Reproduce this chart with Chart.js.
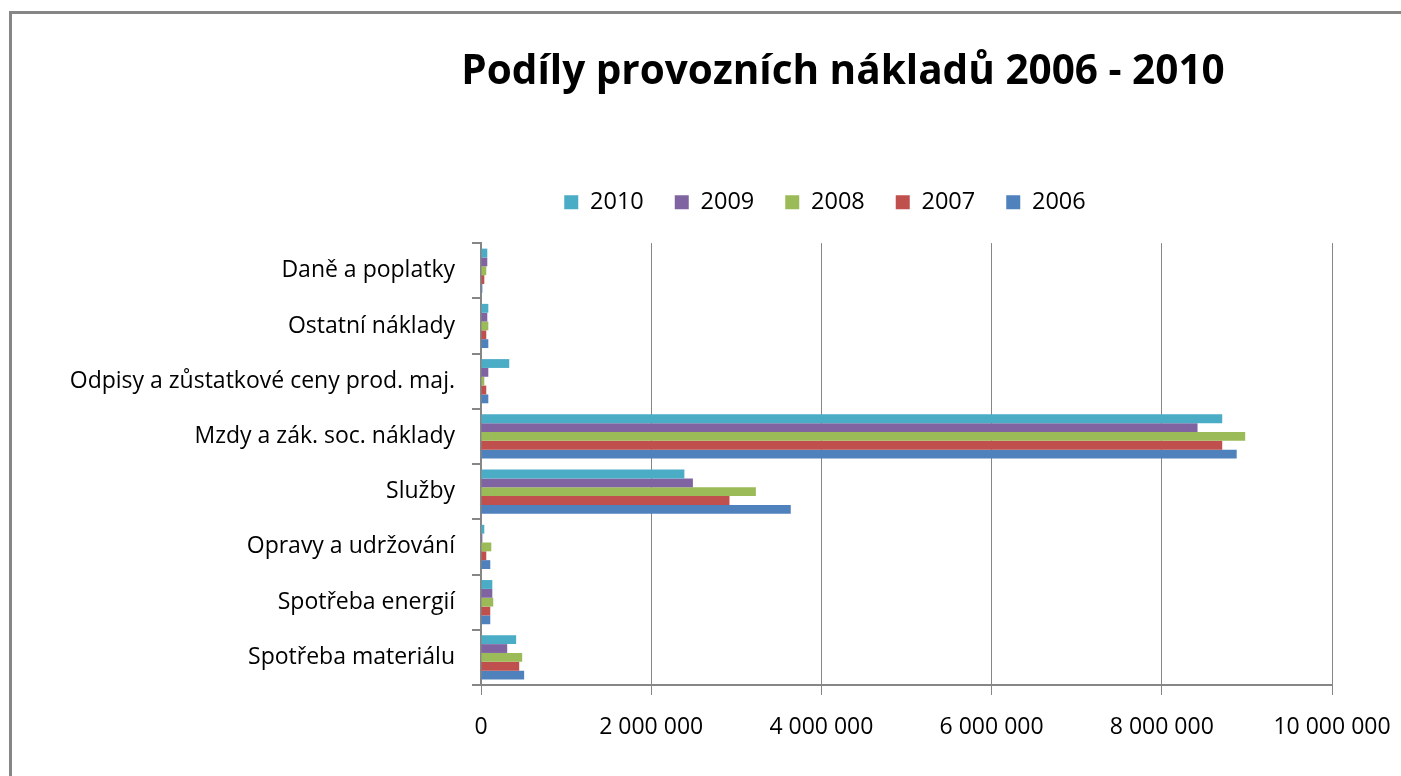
<!DOCTYPE html>
<html>
<head>
<meta charset="utf-8">
<script src="https://cdn.jsdelivr.net/npm/chart.js@4/dist/chart.umd.min.js"></script>
<style>
  html, body { margin: 0; padding: 0; background: #fff; }
  #wrap { position: relative; width: 1401px; height: 776px; overflow: hidden; }
  #frame { position: absolute; left: 9px; top: 11px; width: 1500px; height: 900px;
           border-left: 3px solid #868686; border-top: 3px solid #868686; box-sizing: border-box; pointer-events: none; }
  canvas { position: absolute; left: 0; top: 0; }
</style>
</head>
<body>
<div id="wrap">
  <canvas id="c" width="1401" height="776"></canvas>
  <div id="frame"></div>
</div>
<script>
const titleText = 'Podíly provozních nákladů 2006 - 2010';
const categories = [
  'Daně a poplatky',
  'Ostatní náklady',
  'Odpisy a zůstatkové ceny prod. maj.',
  'Mzdy a zák. soc. náklady',
  'Služby',
  'Opravy a udržování',
  'Spotřeba energií',
  'Spotřeba materiálu'
];
const years = ['2010', '2009', '2008', '2007', '2006'];
const values2010 = [74000, 86000, 332000, 8710000, 2390000, 39000, 133000, 413000];
const values2009 = [74000, 74000, 86000, 8420000, 2490000, 16000, 133000, 308000];
const values2008 = [62000, 86000, 39000, 8980000, 3230000, 121000, 144000, 484000];
const values2007 = [39000, 62000, 62000, 8710000, 2920000, 62000, 109000, 449000];
const values2006 = [16000, 86000, 86000, 8880000, 3640000, 109000, 109000, 507000];
const xTicks = [0, 2000000, 4000000, 6000000, 8000000, 10000000];
const colors = ['#4BACC6', '#8064A2', '#9BBB59', '#C0504D', '#4F81BD'];
const seriesValues = [values2010, values2009, values2008, values2007, values2006];

const fontFamily = '"Open Sans", "Liberation Sans", sans-serif';
const gridColor = '#868686';
const padRight = 69;
const plotLeft = 481;
const titleCenter = 843;
const legendCenter = 825;

function fmt(v) {
  return String(v).replace(/\B(?=(\d{3})+(?!\d))/g, ' ');
}

// shift title and legend boxes so they are centred where the reference has them
const boxShift = {
  id: 'boxShift',
  afterLayout(chart) {
    const t = chart.titleBlock;
    if (t) { const d = titleCenter - (t.left + t.right) / 2; t.left += d; t.right += d; }
    const l = chart.legend;
    if (l) { const d = legendCenter - (l.left + l.right) / 2; l.left += d; l.right += d; }
  }
};

new Chart(document.getElementById('c'), {
  type: 'bar',
  plugins: [boxShift],
  data: {
    labels: categories,
    datasets: years.map((y, i) => ({
      label: y,
      data: seriesValues[i],
      backgroundColor: colors[i],
      borderWidth: 0,
      categoryPercentage: 0.8,
      barPercentage: 1.0
    }))
  },
  options: {
    indexAxis: 'y',
    responsive: false,
    animation: false,
    devicePixelRatio: 1,
    layout: { padding: { left: 0, right: padRight, top: 0, bottom: 0 } },
    plugins: {
      title: {
        display: true,
        text: titleText,
        color: '#000',
        font: { family: fontFamily, size: 40.5, weight: 'bold' },
        padding: { top: 48, bottom: 63 }
      },
      legend: {
        display: true,
        position: 'top',
        labels: {
          color: '#000',
          font: { family: fontFamily, size: 23.5 },
          boxWidth: 14,
          boxHeight: 14,
          padding: 31
        }
      },
      tooltip: { enabled: false }
    },
    scales: {
      x: {
        type: 'linear',
        position: 'bottom',
        min: 0,
        max: 10000000,
        afterBuildTicks: (s) => { s.ticks = xTicks.map(v => ({ value: v })); },
        ticks: {
          color: '#000',
          font: { family: fontFamily, size: 23 },
          padding: 19,
          maxRotation: 0,
          autoSkip: false,
          callback: (v) => fmt(v)
        },
        grid: { color: gridColor, lineWidth: 1, tickLength: 10, drawTicks: true },
        border: { color: gridColor, width: 2 },
        afterFit: (s) => { s.height = 91; s.paddingLeft = 0; s.paddingRight = 0; }
      },
      xTop: {
        type: 'linear',
        axis: 'x',
        position: 'top',
        display: true,
        grid: { display: false },
        border: { display: false },
        ticks: { display: false },
        afterFit: (s) => { s.height = 19; s.paddingLeft = 0; s.paddingRight = 0; }
      },
      y: {
        type: 'category',
        position: 'left',
        offset: true,
        ticks: {
          color: '#000',
          font: { family: fontFamily, size: 23 },
          padding: 17,
          autoSkip: false
        },
        grid: { offset: true, drawOnChartArea: false, drawTicks: true, tickLength: 9, color: gridColor, lineWidth: 2 },
        border: { color: gridColor, width: 2 },
        afterFit: (s) => { s.width = plotLeft; }
      }
    }
  }
});
</script>
</body>
</html>
